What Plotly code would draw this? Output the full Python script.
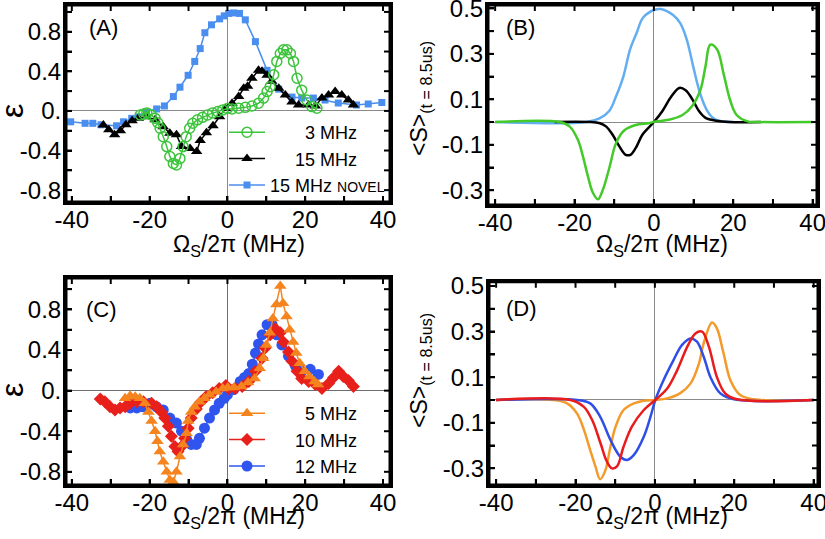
import plotly.graph_objects as go

# ---------------- Panel A data ----------------
a_3mhz_x = [-22.4, -21.5, -20.7, -19.6, -18.6, -17.9, -17.3, -16.5, -15.6, -14.8, -13.9, -13.1, -12.2, -11.4,
            -10.6, -9.7, -8.9, -7.7, -6.4, -5.1, -3.8, -2.5, -1.2, 0.0, 1.2, 2.9, 4.6, 6.3, 8.0, 9.3, 10.2,
            11.0, 11.9, 12.7, 13.6, 14.4, 15.3, 16.2, 17.0, 17.9, 19.1, 20.4, 21.7, 23.0]
a_3mhz_y = [-0.04, -0.03, -0.02, -0.04, -0.075, -0.12, -0.175, -0.26, -0.36, -0.46, -0.53, -0.545, -0.48, -0.36,
            -0.26, -0.175, -0.125, -0.09, -0.065, -0.04, -0.02, -0.007, 0.01, 0.025, 0.02, 0.027, 0.036, 0.05,
            0.077, 0.13, 0.195, 0.245, 0.365, 0.50, 0.58, 0.617, 0.617, 0.58, 0.50, 0.33, 0.21, 0.11, 0.044, 0.027]

a_15mhz_x = [-31.9, -30.5, -29.0, -27.5, -26.1, -24.5, -22.9, -20.8, -18.6, -16.5, -14.8, -13.1, -11.8, -9.6,
             -7.9, -7.0, -5.4, -3.7, -2.0, -0.5, 1.2, 2.9, 4.2, 5.2, 6.3, 8.0, 8.9, 10.2, 11.4, 13.2, 14.9,
             16.6, 18.3, 20.9, 22.6, 24.3, 26.0, 27.7, 29.4, 31.1, 32.4]
a_15mhz_y = [-0.142, -0.19, -0.24, -0.2, -0.14, -0.1, -0.075, -0.06, -0.09, -0.16, -0.225, -0.24, -0.36, -0.38,
             -0.41, -0.30, -0.22, -0.15, -0.06, 0.025, 0.077, 0.145, 0.23, 0.25, 0.33, 0.41, 0.40, 0.36, 0.30,
             0.23, 0.16, 0.09, 0.06, 0.06, 0.05, 0.13, 0.16, 0.195, 0.16, 0.11, 0.06]

a_novel_x = [-40.3, -36.6, -34.6, -32.5, -28.5, -26.7, -24.6, -22.9, -20.8, -18.2, -16.2, -13.9, -12.2, -10.1,
             -8.4, -7.0, -5.8, -4.1, -2.0, -0.8, 0.3, 1.6, 3.1, 4.6, 7.2, 10.2, 13.2, 16.6, 19.1, 22.1, 25.1,
             28.5, 33.2, 36.2, 39.7]
a_novel_y = [-0.11, -0.125, -0.125, -0.14, -0.15, -0.11, -0.075, -0.06, -0.01, 0.02, 0.05, 0.145, 0.24, 0.36,
             0.50, 0.63, 0.79, 0.87, 0.93, 0.96, 0.985, 0.99, 0.985, 0.92, 0.70, 0.41, 0.22, 0.14, 0.13, 0.13,
             0.11, 0.08, 0.06, 0.07, 0.085]

# ---------------- Panel B data ----------------
b_blue_x = [-40, -16.9, -13.6, -11.2, -9.6, -7.7, -6.0, -4.4, -2.7, 0.2, 1.7, 4.9, 6.6, 8.3, 9.9, 11.6, 13.3,
            15.0, 17.5, 20.0]
b_blue_y = [0, 0, 0.017, 0.05, 0.11, 0.2, 0.32, 0.39, 0.46, 0.494, 0.497, 0.47, 0.436, 0.362, 0.245, 0.128,
            0.054, 0.017, 0.002, 0]

b_black_x = [-25.0, -13.6, -12.0, -10.4, -8.7, -7.1, -5.9, -4.6, -2.9, 0.0, 2.2, 4.3, 6.4, 8.0, 9.7, 11.4,
             13.1, 15.6, 19.0, 27.0]
b_black_y = [0, -0.005, -0.02, -0.056, -0.107, -0.144, -0.144, -0.115, -0.056, 0.0, 0.05, 0.11, 0.15, 0.14,
             0.1, 0.047, 0.017, 0.006, 0.0, 0]

b_green_x = [-40, -23.7, -21.2, -19.1, -17.9, -16.6, -15.4, -14.1, -12.9, -11.2, -9.6, -7.5, -4.6, -1.3, 0.4,
             3.7, 7.1, 9.6, 11.7, 13.0, 14.2, 15.9, 17.6, 19.2, 20.9, 23.8, 26.3, 40]
b_green_y = [0, 0, -0.02, -0.08, -0.15, -0.24, -0.31, -0.34, -0.30, -0.2, -0.095, -0.037, -0.013, -0.005,
             0.002, 0.01, 0.03, 0.07, 0.14, 0.245, 0.34, 0.32, 0.21, 0.097, 0.03, 0.002, 0, 0]

# ---------------- Panel C data ----------------
c_5mhz_x = [-26.3, -25.0, -23.7, -22.5, -21.2, -20.3, -19.5, -18.6, -18.0, -17.4, -16.5, -15.6, -14.8, -13.9,
            -13.1, -12.2, -11.4, -10.5, -10.1, -9.3, -8.4, -7.2, -5.9, -4.6, -2.9, -1.2, 0.1, 1.7, 3.6, 5.3,
            7.0, 8.3, 9.2, 10.0, 10.9, 11.7, 12.6, 13.6, 14.3, 15.2, 16.0, 16.9, 17.7, 18.6, 19.9, 21.1,
            22.4, 23.3]
c_5mhz_y = [-0.075, -0.05, -0.06, -0.075, -0.125, -0.21, -0.30, -0.40, -0.50, -0.60, -0.70, -0.80, -0.88,
            -0.90, -0.80, -0.65, -0.53, -0.42, -0.30, -0.21, -0.16, -0.11, -0.075, -0.04, -0.01, 0.02, 0.03,
            0.03, 0.04, 0.08, 0.12, 0.22, 0.32, 0.45, 0.57, 0.71, 0.85, 1.03, 0.86, 0.73, 0.60, 0.48, 0.37,
            0.27, 0.19, 0.14, 0.09, 0.06]

c_10mhz_x = [-32.7, -31.5, -30.2, -28.9, -27.6, -26.3, -25.0, -23.3, -21.6, -19.5, -18.2, -17.0, -16.1, -15.2,
             -14.4, -13.5, -12.7, -11.8, -11.0, -10.1, -9.3, -8.0, -6.8, -5.5, -3.8, -2.1, -0.4, 0.3, 2.0,
             3.8, 5.5, 7.2, 8.9, 9.7, 11.0, 12.3, 13.6, 14.4, 15.7, 16.6, 17.9, 19.1, 20.9, 22.6, 24.3, 26.0,
             27.3, 28.6, 29.8, 31.1, 32.4]
c_10mhz_y = [-0.082, -0.11, -0.16, -0.19, -0.17, -0.16, -0.125, -0.11, -0.11, -0.125, -0.16, -0.21, -0.27,
             -0.35, -0.45, -0.55, -0.60, -0.55, -0.47, -0.37, -0.27, -0.18, -0.11, -0.06, -0.02, 0.02, 0.05,
             0.02, 0.02, 0.04, 0.09, 0.19, 0.32, 0.42, 0.55, 0.61, 0.57, 0.48, 0.38, 0.29, 0.19, 0.12, 0.09,
             0.06, 0.02, 0.07, 0.13, 0.19, 0.14, 0.10, 0.04]

c_12mhz_x = [-25.0, -23.3, -21.6, -19.9, -18.2, -16.5, -14.8, -13.1, -11.8, -10.5, -9.3, -8.0, -7.2, -5.9,
             -4.6, -3.3, -2.1, -0.8, 0.0, 1.6, 3.3, 4.4, 5.5, 6.4, 7.2, 8.0, 8.9, 10.2, 11.5, 12.7, 14.0,
             15.7, 17.4, 19.1, 21.3, 23.4]
c_12mhz_y = [-0.17, -0.17, -0.16, -0.125, -0.16, -0.19, -0.27, -0.32, -0.40, -0.48, -0.53, -0.53, -0.47,
             -0.37, -0.27, -0.19, -0.125, -0.075, -0.04, 0.01, 0.09, 0.13, 0.17, 0.26, 0.37, 0.46, 0.55, 0.65,
             0.65, 0.55, 0.45, 0.34, 0.25, 0.19, 0.21, 0.16]

# ---------------- Panel D data ----------------
d_orange_x = [-40, -25.6, -22.1, -19.6, -17.9, -16.3, -15.0, -13.8, -12.5, -11.2, -9.9, -7.9, -5.3, -2.8, 0.1,
              3.1, 6.4, 9.0, 11.1, 12.3, 14.4, 15.6, 17.3, 19.0, 21.5, 24.9, 40]
d_orange_y = [0, 0, -0.015, -0.06, -0.13, -0.22, -0.29, -0.348, -0.31, -0.205, -0.117, -0.044, -0.015, -0.003,
              0, 0.007, 0.03, 0.073, 0.16, 0.25, 0.34, 0.315, 0.205, 0.088, 0.022, 0.003, 0]

d_blue_x = [-40, -19.6, -16.3, -13.8, -11.2, -8.7, -7.0, -5.3, -2.8, -1.1, 0.1, 2.2, 4.7, 6.8, 9.0, 10.6,
            12.3, 14.0, 16.5, 19.9, 40]
d_blue_y = [0, 0, -0.015, -0.073, -0.175, -0.249, -0.263, -0.241, -0.161, -0.073, 0, 0.088, 0.175, 0.241,
            0.27, 0.256, 0.19, 0.1, 0.029, 0.003, 0]

d_red_x = [-40, -21.3, -17.9, -15.8, -13.7, -12.1, -10.8, -9.5, -7.9, -5.8, -2.8, 0.1, 3.1, 5.6, 8.2, 10.2,
           11.9, 13.6, 15.6, 17.7, 20.7, 40]
d_red_y = [0, 0, -0.03, -0.088, -0.19, -0.27, -0.30, -0.29, -0.205, -0.117, -0.044, 0, 0.05, 0.13, 0.235,
           0.292, 0.30, 0.234, 0.102, 0.029, 0.003, 0]

x_tickvals = [-40, -30, -20, -10, 0, 10, 20, 30, 40]
x_ticktext = ["-40", " ", "-20", " ", "0", " ", "20", " ", "40"]
eps_tickvals = [-0.8, -0.6, -0.4, -0.2, 0.0, 0.2, 0.4, 0.6, 0.8, 1.0]
eps_ticktext = ["-0.8", " ", "-0.4", " ", "0.", " ", "0.4", " ", "0.8", " "]
s_tickvals = [-0.3, -0.2, -0.1, 0.0, 0.1, 0.2, 0.3, 0.4, 0.5]
s_ticktext = ["-0.3", " ", "-0.1", " ", "0.1", " ", "0.3", " ", "0.5"]

# axis ranges of the four panels
a_xrange, a_yrange = [-41.5, 41.8], [-0.92, 1.07]
b_xrange, b_yrange = [-41.8, 41.1], [-0.365, 0.515]
c_xrange, c_yrange = [-41.5, 41.8], [-0.93, 1.11]
d_xrange, d_yrange = [-41.8, 41.1], [-0.373, 0.519]

FONT = "Liberation Sans, Arial, Helvetica, sans-serif"
TICKF = dict(family=FONT, size=24, color="black")
XTITLE = "Ω<sub>S</sub>/2π (MHz)"
STITLE = "&lt;S&gt;<sub>(t = 8.5us)</sub>"

W, H = 825, 539


def px(v): return v / W
def py(v): return 1 - v / H


def xax(domain, anchor, rng, zc="#8a8a8a", zw=1):
    return dict(domain=domain, anchor=anchor, range=rng, showline=True, mirror=True,
                linecolor="black", linewidth=3, ticks="inside", ticklen=6, tickwidth=2,
                tickcolor="black", tickvals=x_tickvals, ticktext=x_ticktext, tickfont=TICKF,
                ticklabeloverflow="allow", ticklabelstandoff=-6,
                showgrid=False, zeroline=True, zerolinecolor=zc, zerolinewidth=zw, automargin=False)


def yax(domain, anchor, rng, tv, tt, zc="#8a8a8a", zw=1):
    return dict(domain=domain, anchor=anchor, range=rng, showline=True, mirror=True,
                linecolor="black", linewidth=3, ticks="inside", ticklen=6, tickwidth=2,
                tickcolor="black", tickvals=tv, ticktext=tt, tickfont=TICKF,
                ticklabeloverflow="allow", ticklabelstandoff=-3,
                showgrid=False, zeroline=True, zerolinecolor=zc, zerolinewidth=zw, automargin=False)


fig = go.Figure()

# Panel A
fig.add_trace(go.Scatter(x=a_novel_x, y=a_novel_y, mode="lines+markers",
                         name="15 MHz <span style='font-size:14px'>NOVEL</span>",
                         line=dict(color="#4a8eef", width=1.5), marker=dict(symbol="square", size=7, color="#4a8eef"),
                         xaxis="x", yaxis="y", legend="legend", legendrank=3))
fig.add_trace(go.Scatter(x=a_15mhz_x, y=a_15mhz_y, mode="lines+markers", name="\u00a0\u00a0\u00a0\u00a0\u00a015 MHz",
                         line=dict(color="black", width=1.5), marker=dict(symbol="triangle-up", size=10, color="black"),
                         xaxis="x", yaxis="y", legend="legend", legendrank=2))
fig.add_trace(go.Scatter(x=a_3mhz_x, y=a_3mhz_y, mode="lines+markers",
                         name="\u00a0\u00a0\u00a0\u00a0\u00a0\u00a0\u00a03 MHz",
                         line=dict(color="#3cc43c", width=1.5),
                         marker=dict(symbol="circle-open", size=10, color="#3cc43c", line=dict(width=1.5)),
                         xaxis="x", yaxis="y", legend="legend", legendrank=1))

# Panel B
fig.add_trace(go.Scatter(x=b_blue_x, y=b_blue_y, mode="lines", line=dict(color="#62aef0", width=2.5, shape="spline"),
                         xaxis="x2", yaxis="y2", showlegend=False))
fig.add_trace(go.Scatter(x=b_black_x, y=b_black_y, mode="lines", line=dict(color="black", width=2.5, shape="spline"),
                         xaxis="x2", yaxis="y2", showlegend=False))
fig.add_trace(go.Scatter(x=b_green_x, y=b_green_y, mode="lines", line=dict(color="#44c92a", width=2.5, shape="spline"),
                         xaxis="x2", yaxis="y2", showlegend=False))

# Panel C
fig.add_trace(go.Scatter(x=c_12mhz_x, y=c_12mhz_y, mode="lines+markers", name="\u00a0\u00a0\u00a0\u00a0\u00a012 MHz",
                         line=dict(color="#2f55ee", width=1.5), marker=dict(symbol="circle", size=11, color="#2f55ee"),
                         xaxis="x3", yaxis="y3", legend="legend2", legendrank=3))
fig.add_trace(go.Scatter(x=c_10mhz_x, y=c_10mhz_y, mode="lines+markers", name="\u00a0\u00a0\u00a0\u00a0\u00a010 MHz",
                         line=dict(color="#e8201c", width=1.5), marker=dict(symbol="diamond", size=10, color="#e8201c"),
                         xaxis="x3", yaxis="y3", legend="legend2", legendrank=2))
fig.add_trace(go.Scatter(x=c_5mhz_x, y=c_5mhz_y, mode="lines+markers",
                         name="\u00a0\u00a0\u00a0\u00a0\u00a0\u00a0\u00a05 MHz",
                         line=dict(color="#f5841f", width=1.5), marker=dict(symbol="triangle-up", size=11, color="#f5841f"),
                         xaxis="x3", yaxis="y3", legend="legend2", legendrank=1))

# Panel D
fig.add_trace(go.Scatter(x=d_orange_x, y=d_orange_y, mode="lines", line=dict(color="#f39a2a", width=2.5, shape="spline"),
                         xaxis="x4", yaxis="y4", showlegend=False))
fig.add_trace(go.Scatter(x=d_blue_x, y=d_blue_y, mode="lines", line=dict(color="#2f4fe6", width=2.5, shape="spline"),
                         xaxis="x4", yaxis="y4", showlegend=False))
fig.add_trace(go.Scatter(x=d_red_x, y=d_red_y, mode="lines", line=dict(color="#e81c1c", width=2.5, shape="spline"),
                         xaxis="x4", yaxis="y4", showlegend=False))

# panel boxes in pixels (left, top, right, bottom)
a_box, b_box, c_box, d_box = (66, 5, 390, 202), (488, 5, 817, 205), (66, 278, 390, 485), (489, 281.7, 818, 485)

# axis frame and inside tick marks, built from each panel's axis ranges and tick values
panels = [("x", "y", a_xrange, a_yrange, eps_tickvals, a_box),
          ("x2", "y2", b_xrange, b_yrange, s_tickvals, b_box),
          ("x3", "y3", c_xrange, c_yrange, eps_tickvals, c_box),
          ("x4", "y4", d_xrange, d_yrange, s_tickvals, d_box)]
TICKLEN = 6
for xa, ya, xr, yr, ytv, box in panels:
    x0, x1 = xr
    y0, y1 = yr
    lx = TICKLEN * (x1 - x0) / (box[2] - box[0])
    ly = TICKLEN * (y1 - y0) / (box[3] - box[1])
    tx, ty = [], []
    for t in x_tickvals:
        if x0 < t < x1:
            tx += [t, t, None, t, t, None]
            ty += [y0, y0 + ly, None, y1, y1 - ly, None]
    for v in ytv:
        if y0 < v < y1:
            tx += [x0, x0 + lx, None, x1, x1 - lx, None]
            ty += [v, v, None, v, v, None]
    fig.add_trace(go.Scatter(x=tx, y=ty, mode="lines", line=dict(color="black", width=2), xaxis=xa, yaxis=ya,
                             showlegend=False, hoverinfo="skip", cliponaxis=False, connectgaps=False))
    fig.add_trace(go.Scatter(x=[x0, x1, x1, x0, x0], y=[y0, y0, y1, y1, y0], mode="lines",
                             line=dict(color="black", width=3), xaxis=xa, yaxis=ya,
                             showlegend=False, hoverinfo="skip", cliponaxis=False))

legend_common = dict(bgcolor="rgba(0,0,0,0)", borderwidth=0, font=dict(family=FONT, size=18, color="black"),
                     xref="paper", yref="paper", xanchor="left", yanchor="top", traceorder="normal",
                     itemwidth=36, tracegroupgap=0)

panel_font = dict(family=FONT, size=22, color="black")
title_font = dict(family=FONT, size=23, color="black")
eps_font = dict(family=FONT, size=32, color="black")


def ann(text, x, y, font, angle=0):
    return dict(text=text, xref="paper", yref="paper", x=px(x), y=py(y), xanchor="center", yanchor="middle",
                showarrow=False, font=font, textangle=angle)


fig.update_layout(
    template="none",
    width=W, height=H, margin=dict(l=0, r=0, t=0, b=0, autoexpand=False),
    paper_bgcolor="white", plot_bgcolor="white",
    font=dict(family=FONT, color="black"),
    xaxis=xax([px(a_box[0]), px(a_box[2])], "y", a_xrange),
    yaxis=yax([py(a_box[3]), py(a_box[1])], "x", a_yrange, eps_tickvals, eps_ticktext),
    xaxis2=xax([px(b_box[0]), px(b_box[2])], "y2", b_xrange),
    yaxis2=yax([py(b_box[3]), py(b_box[1])], "x2", b_yrange, s_tickvals, s_ticktext),
    xaxis3=xax([px(c_box[0]), px(c_box[2])], "y3", c_xrange, "#6e6e6e", 1.5),
    yaxis3=yax([py(c_box[3]), py(c_box[1])], "x3", c_yrange, eps_tickvals, eps_ticktext, "#6e6e6e", 1.5),
    xaxis4=xax([px(d_box[0]), px(d_box[2])], "y4", d_xrange),
    yaxis4=yax([py(d_box[3]), py(d_box[1])], "x4", d_yrange, s_tickvals, s_ticktext),
    legend=dict(x=px(224), y=py(114), **legend_common),
    legend2=dict(x=px(224), y=py(395), **legend_common),
    dragmode=False,
    annotations=[
        ann("(A)", 103, 27.5, panel_font), ann("(B)", 520, 27.5, panel_font),
        ann("(C)", 101, 309, panel_font), ann("(D)", 521.5, 308.5, panel_font),
        ann(XTITLE, 239, 245, title_font), ann(XTITLE, 662, 246, title_font),
        ann(XTITLE, 239, 517, title_font), ann(XTITLE, 662, 517, title_font),
        ann("ε", 12, 111, eps_font, -90), ann("ε", 12, 390, eps_font, -90),
        ann(STITLE, 420, 98, title_font, -90), ann(STITLE, 420, 370, title_font, -90),
    ],
)

fig.write_html("out.html", config={"staticPlot": True, "displayModeBar": False},
               post_script="document.body.style.margin='0px';")
